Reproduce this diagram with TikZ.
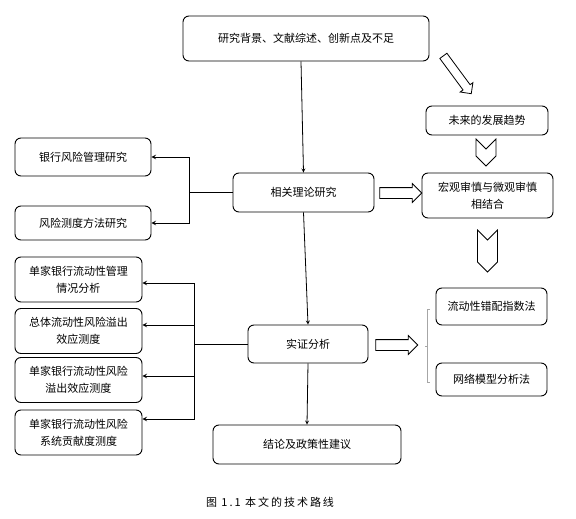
\documentclass[tikz,border=0pt]{standalone}
\usepackage{fontspec}
\newfontfamily\cjk{Noto Sans CJK SC}
\usetikzlibrary{positioning, arrows, arrows.meta, shapes.arrows}

\begin{document}
\begin{tikzpicture}[
		x=1pt, y=-1pt,
		every block/.style={rectangle, draw, rounded corners=6pt, line width=0.9pt, inner sep=0pt, align=center, font=\cjk\fontsize{11}{17}\selectfont},
		block arrow/.style={single arrow, draw, line width=0.8pt, inner sep=5pt, single arrow head extend=4pt},
		chevron/.style={draw, line width=0.8pt, line join=miter},
		bracket/.style={draw=gray!70, line width=0.6pt},
		link/.style={->, line width=1pt},
		>=stealth
	]

	\useasboundingbox (0, 0) rectangle (576, 519);

	% middle column
	\node [every block, minimum width=246, minimum height=45] (background) at (306, 38.5) {研究背景、文献综述、创新点及不足};
	\node [every block, minimum width=141, minimum height=39] (theory) at (303.5, 192.5) {相关理论研究};
	\node [every block, minimum width=120, minimum height=38] (empirical) at (308, 344) {实证分析};
	\node [every block, minimum width=188, minimum height=39] (conclusion) at (307, 444.5) {结论及政策性建议};

	% right column
	\node [every block, minimum width=122, minimum height=29] (trend) at (487, 120.5) {未来的发展趋势};
	\node [every block, minimum width=131, minimum height=45] (macro) at (487.5, 195.5) {宏观审慎与微观审慎\\相结合};
	\foreach \t/\y/\h [count=\i] in {流动性错配指数法/306.5/37, 网络模型分析法/379.5/33}
		\node [every block, minimum width=111, minimum height=\h] (method-\i) at (491.5, \y) {\t};

	% left column
	\foreach \t/\y/\h [count=\i] in {银行风险管理研究/157/38, 风险测度方法研究/223/34}
		\node [every block, minimum width=136, minimum height=\h] (risk-\i) at (83, \y) {\t};

	\foreach \t/\y [count=\i] in {{单家银行流动性管理\\情况分析}/279.5, {总体流动性风险溢出\\效应测度}/331, {单家银行流动性风险\\溢出效应测度}/380, {单家银行流动性风险\\系统贡献度测度}/432.5}
		\node [every block, minimum width=127, minimum height=45] (left-\i) at (78.5, \y) {\t};

	% connectors
	\draw [link, line width=0.8pt] ([xshift=-5pt]background.south) -- (theory.north);
	\draw [link, line width=0.8pt] (theory.south) -- (empirical.north);
	\draw [link, line width=0.8pt] (empirical.south) -- (conclusion.north);

	\draw [line width=1pt] (theory.west) -- ++(-43, 0) coordinate (fork-1);
	\foreach \i in {1, 2}
		\draw [link] (fork-1) |- (risk-\i.east);

	\draw [line width=1pt] (empirical.west) -- ++(-53, 0) coordinate (fork-2);
	\foreach \i/\dy in {1/3.5, 2/-6, 3/-4, 4/-13.5}
		\draw [link] (fork-2) |- ([yshift=-\dy pt]left-\i.east);

	% hollow arrows
	\node [block arrow, inner sep=4pt, single arrow head extend=3.5pt, minimum height=47, rotate=-53.6] (trend-arrow) at (456, 73) {};
	\node [block arrow, minimum height=42] (theory-arrow) at (398, 193) {};
	\node [block arrow, minimum height=42] (empirical-arrow) at (394, 345) {};

	\foreach \x/\y/\h in {486/139/17, 487.5/230/32}
		\draw [chevron] (\x - 10, \y) -- ++(10, 10) -- ++(10, -10) -- ++(0, \h) -- ++(-10, 10) -- ++(-10, -10) -- cycle;

	\draw [bracket] (429.5, 309) -- (427, 309) -- (427, 382) -- (429.5, 382);
	\draw [bracket] (427, 346) -- (424.5, 346);

	\node [font=\cjk\fontsize{11}{13}\selectfont\addfontfeature{LetterSpace=18}] (caption) at (270, 502) {图 1.1 本文的技术路线};
\end{tikzpicture}
\end{document}
